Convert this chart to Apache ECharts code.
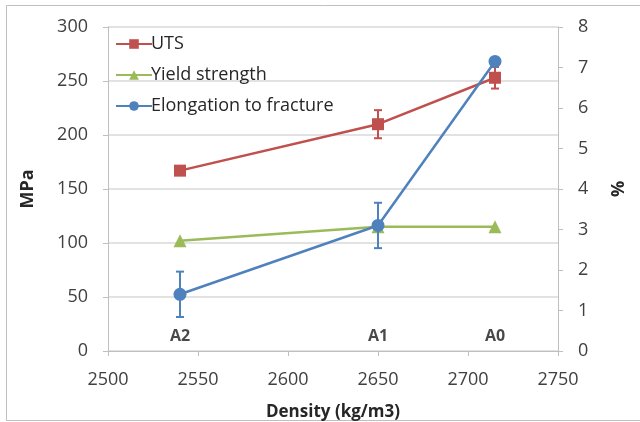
<!DOCTYPE html>
<html>
<head>
<meta charset="utf-8">
<script src="https://cdn.jsdelivr.net/npm/echarts@6/dist/echarts.min.js"></script>
<style>html,body{margin:0;padding:0;background:#fff;overflow:hidden}#c{width:640px;height:422px}</style>
</head>
<body>
<div id="c"></div>
<script>
// Data
const density = [2540, 2650, 2715];
const sampleNames = ['A2', 'A1', 'A0'];
const uts = [167, 210, 253];
const utsErr = [0, 13, 10];
const yieldStrength = [102, 115, 115];
const elongation = [1.4, 3.1, 7.15];
const elongErr = [0.56, 0.56, 0];
const xTicks = { min: 2500, max: 2750, interval: 50 };
const leftTicks = { min: 0, max: 300, interval: 50 };
const rightTicks = { min: 0, max: 8, interval: 1 };

const RED = '#C0504D', GREEN = '#9BBB59', BLUE = '#4F81BD';
const FONT = 'Open Sans';

function pairs(xs, ys) { return xs.map((x, i) => [x, ys[i]]); }
function errData(xs, ys, es) {
  return xs.map((x, i) => [x, ys[i] - es[i], ys[i] + es[i]]).filter((d, i) => es[i] > 0);
}
function errRender(color) {
  return function (params, api) {
    const x = api.value(0), lo = api.value(1), hi = api.value(2);
    const a = api.coord([x, hi]), b = api.coord([x, lo]);
    const w = 4;
    const st = { stroke: color, lineWidth: 2 };
    return {
      type: 'group',
      children: [
        { type: 'line', shape: { x1: a[0], y1: a[1], x2: b[0], y2: b[1] }, style: st },
        { type: 'line', shape: { x1: a[0] - w, y1: a[1], x2: a[0] + w, y2: a[1] }, style: st },
        { type: 'line', shape: { x1: b[0] - w, y1: b[1], x2: b[0] + w, y2: b[1] }, style: st }
      ]
    };
  };
}

const chart = echarts.init(document.getElementById('c'));
const tickLabel = { color: '#404040', fontSize: 18, fontFamily: FONT };
const axisLineStyle = { lineStyle: { color: '#BFBFBF', width: 1 } };

chart.setOption({
  animation: false,
  textStyle: { fontFamily: FONT },
  grid: { left: 108, right: 82, top: 27, bottom: 71, containLabel: false, outerBoundsMode: 'none' },
  graphic: [{
    type: 'polyline', shape: { points: [[660, 5.5], [6.5, 5.5], [6.5, 420.5], [660, 420.5]] },
    style: { fill: 'none', stroke: '#BFBFBF', lineWidth: 1 }, silent: true, z: -1
  }],
  legend: {
    left: 110, top: 30, orient: 'vertical', itemGap: 13,
    itemWidth: 36, itemHeight: 12,
    textStyle: { fontSize: 18, color: '#262626', fontFamily: FONT, padding: [0, 0, 0, -6] },
    data: ['UTS', 'Yield strength', 'Elongation to fracture']
  },
  xAxis: {
    type: 'value', min: xTicks.min, max: xTicks.max, interval: xTicks.interval,
    name: 'Density (kg/m3)', nameLocation: 'middle', nameGap: 53, nameMoveOverlap: false,
    nameTextStyle: { fontSize: 17, fontWeight: 'bold', color: '#262626', fontFamily: FONT },
    axisLine: axisLineStyle,
    axisTick: { show: true, length: 5, lineStyle: { color: '#BFBFBF' } },
    axisLabel: Object.assign({ margin: 20, formatter: v => String(v) }, tickLabel),
    splitLine: { show: false }
  },
  yAxis: [{
    type: 'value', min: leftTicks.min, max: leftTicks.max, interval: leftTicks.interval,
    name: 'MPa', nameLocation: 'middle', nameGap: 71, nameMoveOverlap: false,
    nameTextStyle: { fontSize: 18, fontWeight: 'bold', color: '#262626', fontFamily: FONT },
    axisLine: { show: true, lineStyle: { color: '#BFBFBF' } },
    axisTick: { show: true, length: 5, lineStyle: { color: '#BFBFBF' } },
    axisLabel: Object.assign({ margin: 20 }, tickLabel),
    splitLine: { show: true, lineStyle: { color: '#D9D9D9', width: 1.5 } }
  }, {
    type: 'value', min: rightTicks.min, max: rightTicks.max, interval: rightTicks.interval,
    position: 'right',
    name: '%', nameLocation: 'middle', nameGap: 52, nameMoveOverlap: false,
    nameTextStyle: { fontSize: 18, fontWeight: 'bold', color: '#262626', fontFamily: FONT },
    axisLine: { show: true, lineStyle: { color: '#BFBFBF' } },
    axisTick: { show: true, length: 5, lineStyle: { color: '#BFBFBF' } },
    axisLabel: Object.assign({ margin: 20 }, tickLabel),
    splitLine: { show: false }
  }],
  series: [
    {
      type: 'custom', name: 'UTS err', yAxisIndex: 0, z: 2,
      renderItem: errRender(RED), data: errData(density, uts, utsErr), silent: true
    },
    {
      type: 'line', name: 'UTS', yAxisIndex: 0, z: 3,
      data: pairs(density, uts), symbol: 'rect', symbolSize: 12,
      lineStyle: { color: RED, width: 2.5 }, itemStyle: { color: RED }
    },
    {
      type: 'line', name: 'Yield strength', yAxisIndex: 0, z: 3,
      data: pairs(density, yieldStrength), symbol: 'triangle', symbolSize: 13,
      lineStyle: { color: GREEN, width: 2.5 }, itemStyle: { color: GREEN }
    },
    {
      type: 'custom', name: 'Elong err', yAxisIndex: 1, z: 4,
      renderItem: errRender(BLUE), data: errData(density, elongation, elongErr), silent: true
    },
    {
      type: 'line', name: 'Elongation to fracture', yAxisIndex: 1, z: 5,
      data: pairs(density, elongation), symbol: 'circle', symbolSize: 13,
      lineStyle: { color: BLUE, width: 2.5 }, itemStyle: { color: BLUE }
    },
    {
      type: 'scatter', name: 'labels', yAxisIndex: 0, z: 6, silent: true,
      symbolSize: 0,
      data: density.map((x, i) => ({ value: [x, 0], name: sampleNames[i] })),
      label: {
        show: true, position: 'top', distance: 7, formatter: p => p.name,
        fontSize: 16, fontWeight: 'bold', color: '#1a1a1a', fontFamily: FONT
      }
    }
  ]
});
</script>
</body>
</html>
